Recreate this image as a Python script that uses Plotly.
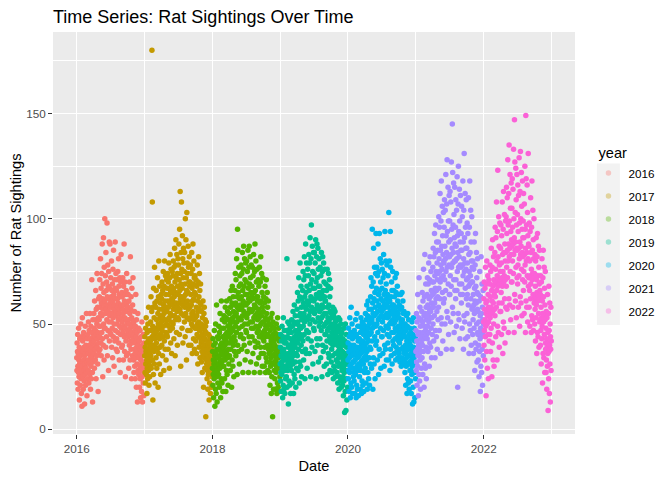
import plotly.graph_objects as go
import pandas as pd

# Daily rat sighting counts, one list per year (Jan 1 .. Dec 31),
# one line per month.
counts_2016 = [
    34, 28, 41, 22, 37, 45, 30, 19, 36, 27, 48, 33, 25, 39, 14, 31, 43, 26, 35, 21, 38, 29, 50, 24, 32, 17, 44, 36, 11, 27, 53,
    30, 42, 25, 37, 19, 33, 46, 28, 39, 23, 35, 12, 44, 31, 26, 49, 36, 21, 40, 29, 33, 55, 27, 38, 16, 43, 32, 24, 37,
    36, 45, 28, 51, 33, 22, 40, 47, 31, 38, 26, 55, 35, 43, 19, 37, 49, 30, 42, 24, 39, 71, 34, 46, 27, 13, 41, 52, 32, 36, 44,
    42, 55, 36, 48, 29, 61, 44, 38, 52, 33, 47, 66, 40, 24, 57, 45, 35, 50, 74, 39, 43, 58, 31, 46, 18, 53, 41, 62, 37, 49,
    52, 63, 44, 71, 38, 58, 49, 81, 55, 41, 67, 35, 60, 74, 46, 54, 88, 43, 62, 25, 57, 69, 40, 91, 50, 65, 33, 77, 48, 59, 100,
    61, 48, 73, 55, 39, 84, 57, 66, 44, 70, 52, 98, 63, 35, 59, 78, 47, 68, 56, 28, 75, 51, 62, 89, 42, 67, 54, 88, 46, 60,
    58, 72, 45, 63, 51, 80, 39, 66, 55, 48, 69, 34, 61, 76, 53, 44, 85, 57, 64, 30, 50, 71, 59, 42, 67, 89, 47, 62, 56, 74, 38,
    54, 66, 43, 71, 50, 37, 62, 58, 75, 46, 60, 52, 81, 41, 68, 55, 33, 64, 49, 72, 57, 27, 63, 45, 70, 53, 83, 48, 59, 39, 65,
    51, 63, 40, 57, 72, 46, 55, 33, 68, 49, 59, 88, 44, 61, 37, 53, 70, 48, 25, 64, 52, 42, 66, 56, 35, 74, 50, 60, 45, 58,
    47, 58, 36, 64, 44, 52, 29, 61, 50, 40, 70, 45, 55, 33, 48, 82, 42, 57, 38, 63, 46, 24, 53, 67, 41, 49, 35, 59, 44, 72, 51,
    42, 33, 51, 27, 45, 38, 56, 30, 47, 36, 24, 49, 41, 64, 34, 44, 20, 52, 39, 31, 46, 37, 13, 43, 55, 28, 40, 35, 48, 26,
    34, 27, 42, 20, 36, 30, 47, 24, 38, 15, 33, 44, 28, 39, 18, 31, 51, 25, 35, 13, 40, 29, 37, 22, 45, 32, 16, 41, 26, 36, 30,
]
counts_2017 = [
    35, 44, 27, 39, 22, 48, 31, 37, 53, 26, 41, 33, 17, 46, 29, 38, 24, 50, 34, 42, 28, 58, 36, 21, 43, 32, 47, 25, 40, 30, 37,
    42, 51, 35, 63, 29, 47, 38, 56, 180, 44, 108, 33, 49, 14, 58, 40, 26, 67, 45, 37, 53, 31, 77, 43, 60, 22, 48, 39,
    46, 58, 34, 66, 41, 52, 29, 61, 47, 38, 72, 44, 55, 20, 50, 63, 36, 80, 48, 57, 31, 43, 68, 53, 39, 60, 45, 26, 54, 49, 64,
    51, 62, 40, 70, 47, 57, 35, 66, 53, 44, 75, 49, 59, 28, 55, 68, 42, 80, 52, 61, 38, 56, 73, 46, 64, 33, 58, 50, 71, 45,
    56, 67, 44, 74, 52, 61, 38, 70, 58, 49, 79, 53, 64, 29, 60, 72, 47, 83, 55, 66, 41, 59, 76, 51, 68, 36, 62, 54, 75, 48, 65,
    61, 73, 50, 80, 57, 67, 43, 77, 63, 54, 86, 59, 70, 35, 65, 78, 52, 90, 60, 72, 46, 64, 83, 56, 74, 40, 68, 58, 81, 53,
    64, 78, 52, 88, 60, 71, 45, 95, 66, 57, 113, 62, 74, 30, 69, 84, 55, 108, 63, 76, 48, 67, 92, 59, 81, 41, 72, 61, 86, 54, 79,
    63, 75, 51, 84, 58, 69, 44, 100, 64, 55, 90, 60, 72, 33, 66, 103, 53, 79, 61, 74, 47, 65, 87, 57, 77, 40, 70, 59, 82, 52, 68,
    58, 70, 47, 78, 53, 64, 40, 74, 59, 50, 84, 55, 67, 36, 61, 76, 49, 88, 56, 69, 43, 62, 80, 52, 72, 38, 65, 54, 73, 48,
    53, 64, 42, 71, 48, 58, 36, 68, 54, 45, 78, 50, 61, 31, 56, 70, 44, 82, 51, 63, 39, 57, 74, 47, 66, 34, 60, 49, 69, 43, 59,
    41, 50, 32, 56, 37, 45, 27, 53, 42, 35, 61, 39, 48, 20, 44, 55, 34, 58, 40, 47, 29, 43, 52, 36, 49, 6, 46, 38, 51, 33,
    31, 38, 24, 42, 28, 35, 19, 40, 33, 26, 45, 30, 37, 14, 34, 41, 22, 44, 29, 36, 17, 32, 39, 27, 43, 20, 35, 30, 38, 25, 33,
]
counts_2018 = [
    29, 37, 21, 43, 26, 33, 15, 40, 31, 24, 47, 28, 35, 11, 32, 41, 19, 50, 27, 36, 17, 30, 59, 25, 38, 13, 34, 28, 44, 22, 31,
    34, 43, 26, 49, 31, 38, 20, 46, 35, 29, 55, 33, 40, 15, 37, 48, 24, 61, 32, 41, 22, 36, 52, 30, 44, 18, 39, 33,
    39, 48, 30, 54, 35, 43, 24, 51, 40, 33, 58, 37, 45, 18, 42, 53, 28, 61, 36, 46, 26, 41, 56, 34, 49, 21, 44, 38, 52, 31, 47,
    45, 55, 35, 62, 41, 50, 28, 58, 46, 38, 66, 43, 52, 20, 48, 60, 33, 68, 42, 53, 30, 47, 63, 40, 56, 25, 51, 44, 59, 37,
    54, 66, 42, 74, 49, 60, 35, 71, 55, 46, 81, 51, 63, 26, 58, 95, 40, 85, 53, 65, 37, 57, 77, 48, 68, 31, 62, 52, 73, 44, 59,
    57, 69, 45, 78, 52, 63, 38, 74, 58, 49, 84, 54, 66, 27, 61, 76, 43, 87, 56, 68, 40, 60, 81, 50, 71, 33, 64, 55, 79, 47,
    59, 70, 46, 80, 53, 64, 37, 75, 60, 50, 85, 55, 67, 27, 62, 77, 44, 87, 57, 69, 41, 61, 82, 51, 72, 32, 65, 56, 78, 48, 63,
    56, 68, 44, 77, 51, 62, 36, 73, 57, 48, 83, 53, 65, 27, 59, 75, 42, 88, 54, 66, 39, 58, 80, 49, 70, 31, 63, 55, 76, 46, 61,
    52, 63, 41, 71, 47, 57, 34, 68, 53, 44, 77, 49, 60, 27, 55, 70, 39, 82, 50, 61, 36, 54, 74, 45, 65, 30, 58, 51, 72, 43,
    46, 56, 36, 63, 42, 51, 30, 60, 47, 39, 68, 44, 53, 27, 49, 62, 34, 71, 45, 55, 32, 48, 65, 40, 58, 28, 52, 45, 61, 38, 50,
    36, 44, 27, 50, 32, 40, 21, 47, 37, 30, 53, 34, 42, 17, 39, 49, 25, 55, 35, 43, 6, 38, 51, 31, 45, 19, 41, 35, 48, 28,
    32, 40, 24, 46, 28, 36, 19, 43, 33, 27, 50, 30, 38, 17, 35, 45, 22, 53, 31, 39, 20, 34, 48, 29, 42, 18, 37, 31, 44, 25, 35,
]
counts_2019 = [
    31, 39, 23, 45, 27, 35, 18, 42, 32, 26, 49, 29, 37, 15, 34, 44, 21, 53, 30, 38, 19, 33, 47, 28, 41, 17, 36, 30, 43, 24, 34,
    33, 41, 25, 47, 29, 81, 20, 44, 34, 28, 51, 31, 39, 12, 36, 46, 23, 50, 32, 40, 21, 35, 48, 30, 43, 17, 38, 33,
    37, 46, 28, 52, 33, 41, 22, 49, 38, 31, 56, 35, 43, 17, 40, 51, 26, 59, 36, 44, 24, 39, 54, 32, 47, 20, 42, 36, 50, 29, 45,
    46, 57, 35, 65, 41, 51, 28, 61, 47, 38, 72, 43, 54, 22, 49, 63, 32, 79, 45, 55, 30, 48, 68, 40, 58, 25, 52, 44, 62, 37,
    54, 66, 42, 75, 49, 60, 33, 71, 55, 45, 82, 51, 63, 24, 58, 73, 38, 88, 53, 65, 36, 57, 79, 47, 68, 29, 61, 52, 76, 43, 59,
    60, 73, 46, 83, 54, 66, 36, 79, 61, 50, 91, 56, 69, 25, 63, 81, 42, 97, 58, 71, 39, 62, 87, 52, 75, 31, 67, 57, 84, 48,
    61, 74, 47, 84, 55, 67, 37, 79, 62, 51, 90, 57, 70, 24, 64, 82, 43, 88, 59, 72, 40, 63, 86, 53, 76, 32, 68, 58, 81, 49, 65,
    56, 68, 43, 77, 51, 62, 34, 73, 57, 47, 84, 53, 64, 25, 59, 75, 40, 82, 54, 66, 37, 58, 79, 49, 70, 30, 63, 55, 76, 45, 61,
    50, 61, 39, 69, 45, 55, 31, 66, 51, 42, 76, 47, 58, 26, 53, 68, 36, 74, 48, 59, 34, 52, 71, 44, 63, 28, 56, 49, 67, 41,
    42, 50, 32, 55, 38, 46, 27, 53, 43, 35, 58, 40, 48, 24, 45, 54, 30, 57, 41, 49, 28, 44, 56, 36, 51, 25, 47, 42, 52, 33, 46,
    36, 44, 27, 49, 32, 40, 22, 47, 37, 30, 53, 34, 42, 19, 39, 48, 25, 52, 35, 43, 23, 38, 50, 31, 45, 20, 41, 35, 46, 28,
    29, 37, 21, 43, 25, 33, 16, 40, 30, 23, 48, 27, 35, 8, 32, 42, 18, 50, 28, 36, 9, 31, 45, 24, 39, 14, 34, 28, 41, 20, 31,
]
counts_2020 = [
    33, 41, 24, 48, 28, 37, 18, 44, 34, 27, 53, 30, 39, 15, 36, 46, 22, 58, 31, 40, 20, 35, 50, 29, 43, 17, 38, 32, 45, 25, 36,
    32, 40, 23, 47, 27, 36, 17, 44, 33, 26, 52, 29, 38, 15, 35, 45, 21, 55, 30, 39, 19, 34, 49, 28, 42, 16, 37, 31, 43,
    35, 43, 25, 49, 30, 39, 19, 46, 36, 28, 53, 32, 41, 17, 38, 48, 23, 51, 33, 42, 21, 37, 50, 31, 45, 18, 40, 34, 47, 27, 38,
    40, 49, 29, 55, 35, 44, 22, 52, 41, 33, 59, 37, 46, 19, 43, 54, 27, 61, 38, 48, 24, 42, 57, 34, 50, 21, 45, 39, 53, 31,
    51, 63, 38, 72, 46, 57, 29, 68, 52, 42, 95, 48, 60, 19, 55, 70, 34, 86, 50, 62, 31, 54, 77, 44, 65, 24, 58, 49, 74, 40, 93,
    55, 67, 42, 77, 50, 61, 33, 73, 56, 46, 88, 52, 64, 26, 59, 75, 38, 93, 53, 66, 35, 58, 81, 48, 70, 29, 62, 54, 79, 44,
    56, 67, 44, 76, 51, 61, 36, 72, 57, 47, 83, 53, 64, 30, 59, 74, 40, 94, 54, 66, 38, 58, 80, 49, 69, 33, 62, 55, 78, 45, 60,
    53, 64, 41, 73, 48, 58, 33, 103, 54, 44, 80, 50, 61, 28, 56, 94, 38, 77, 51, 63, 35, 55, 70, 46, 66, 31, 59, 52, 75, 42, 57,
    50, 59, 40, 66, 46, 54, 36, 63, 51, 43, 72, 48, 56, 33, 52, 65, 39, 74, 47, 58, 37, 53, 68, 44, 61, 34, 55, 49, 64, 42,
    45, 53, 36, 59, 41, 49, 32, 57, 46, 38, 64, 43, 51, 30, 48, 58, 34, 65, 44, 52, 33, 47, 61, 39, 55, 31, 50, 45, 56, 37, 49,
    36, 44, 27, 50, 32, 40, 21, 47, 37, 30, 54, 34, 42, 17, 39, 49, 24, 55, 35, 43, 22, 38, 52, 31, 45, 19, 41, 35, 48, 28,
    32, 40, 23, 46, 28, 36, 17, 43, 33, 26, 51, 30, 38, 12, 35, 45, 20, 53, 31, 39, 13, 34, 48, 27, 42, 15, 37, 31, 44, 24, 36,
]
counts_2021 = [
    37, 47, 28, 55, 32, 42, 21, 51, 38, 30, 64, 35, 45, 16, 40, 53, 26, 72, 36, 46, 23, 39, 58, 33, 49, 19, 43, 37, 52, 29, 41,
    45, 56, 34, 65, 40, 51, 26, 61, 46, 37, 76, 43, 54, 20, 49, 63, 31, 83, 44, 55, 29, 47, 69, 39, 58, 24, 52, 45,
    54, 64, 43, 72, 49, 59, 37, 69, 55, 46, 79, 51, 62, 30, 57, 71, 41, 82, 53, 63, 39, 56, 75, 48, 66, 34, 60, 53, 70, 45, 58,
    64, 77, 50, 86, 58, 70, 42, 82, 65, 54, 93, 60, 73, 34, 67, 84, 47, 97, 62, 75, 44, 66, 89, 56, 79, 38, 71, 63, 85, 52,
    74, 89, 58, 101, 67, 81, 47, 96, 75, 62, 112, 70, 85, 36, 78, 99, 53, 118, 72, 87, 50, 76, 106, 65, 92, 42, 83, 73, 103, 60, 80,
    79, 96, 62, 109, 71, 87, 50, 104, 81, 66, 121, 75, 92, 38, 84, 107, 56, 128, 77, 94, 53, 82, 115, 69, 99, 45, 89, 78, 111, 64,
    82, 99, 64, 113, 73, 90, 51, 108, 83, 68, 127, 77, 95, 38, 86, 145, 58, 122, 79, 97, 55, 84, 117, 71, 102, 46, 91, 80, 115, 66, 88,
    80, 96, 62, 109, 71, 87, 49, 104, 81, 66, 120, 75, 92, 20, 84, 107, 55, 125, 77, 94, 52, 82, 114, 69, 99, 43, 89, 78, 111, 64, 85,
    77, 93, 60, 106, 69, 85, 48, 101, 78, 64, 118, 73, 89, 38, 81, 104, 54, 131, 75, 91, 51, 79, 112, 67, 96, 43, 86, 76, 109, 62,
    71, 86, 55, 98, 64, 79, 44, 93, 72, 59, 110, 68, 83, 36, 75, 96, 50, 118, 69, 84, 47, 73, 104, 62, 89, 40, 80, 70, 101, 57, 77,
    58, 70, 45, 80, 52, 64, 36, 76, 59, 48, 89, 55, 67, 28, 61, 78, 41, 93, 56, 68, 38, 60, 84, 50, 72, 32, 65, 57, 81, 46,
    45, 56, 33, 64, 40, 51, 25, 61, 46, 37, 75, 43, 54, 18, 48, 63, 30, 82, 44, 55, 27, 47, 69, 38, 58, 21, 52, 45, 66, 35, 50,
]
counts_2022 = [
    51, 62, 40, 70, 47, 57, 33, 67, 52, 44, 77, 49, 60, 16, 55, 69, 37, 80, 50, 61, 29, 54, 73, 45, 64, 24, 58, 51, 71, 42, 56,
    57, 69, 45, 78, 53, 63, 37, 75, 58, 48, 86, 55, 66, 25, 61, 77, 41, 90, 56, 68, 33, 60, 82, 50, 71, 30, 64, 57,
    69, 84, 54, 96, 63, 76, 44, 91, 70, 58, 108, 66, 80, 33, 73, 94, 49, 123, 68, 82, 46, 71, 101, 60, 87, 39, 78, 69, 98, 56, 75,
    71, 86, 56, 97, 65, 79, 45, 92, 72, 60, 108, 68, 83, 36, 75, 95, 51, 113, 70, 84, 48, 73, 102, 62, 88, 41, 80, 71, 99, 58,
    84, 101, 68, 115, 77, 93, 57, 110, 85, 72, 128, 80, 97, 46, 88, 112, 62, 135, 82, 99, 59, 86, 121, 75, 105, 52, 94, 83, 117, 70, 90,
    87, 105, 70, 119, 80, 96, 58, 114, 88, 74, 133, 83, 100, 46, 91, 147, 64, 127, 85, 103, 61, 89, 124, 77, 109, 53, 97, 86, 121, 72,
    85, 102, 69, 116, 78, 94, 58, 111, 86, 73, 129, 81, 98, 49, 89, 113, 63, 132, 83, 100, 60, 87, 122, 76, 106, 54, 95, 84, 118, 71, 91,
    82, 99, 66, 112, 75, 91, 55, 107, 83, 70, 125, 78, 95, 46, 86, 149, 61, 119, 80, 97, 58, 84, 116, 73, 103, 51, 92, 81, 131, 68, 88,
    72, 87, 58, 98, 66, 80, 49, 94, 73, 62, 110, 69, 84, 46, 76, 96, 54, 118, 71, 85, 52, 74, 104, 64, 90, 47, 81, 72, 100, 60,
    62, 74, 50, 83, 57, 68, 42, 80, 63, 53, 91, 59, 71, 36, 65, 82, 46, 93, 61, 73, 44, 64, 87, 55, 77, 39, 69, 62, 85, 51, 66,
    52, 64, 40, 73, 47, 58, 31, 70, 53, 43, 81, 49, 61, 22, 55, 72, 36, 85, 51, 63, 34, 54, 77, 45, 67, 27, 59, 52, 75, 41,
    38, 48, 27, 56, 33, 43, 19, 53, 39, 30, 64, 36, 46, 9, 41, 55, 24, 68, 37, 47, 17, 40, 60, 31, 50, 13, 44, 38, 58, 28, 42,
]

years = [2016, 2017, 2018, 2019, 2020, 2021, 2022]
year_counts = [counts_2016, counts_2017, counts_2018, counts_2019,
               counts_2020, counts_2021, counts_2022]

x_ticks = ["2016-01-01", "2018-01-01", "2020-01-01", "2022-01-01"]
x_tick_labels = ["2016", "2018", "2020", "2022"]
x_minor = ["2017-01-01", "2019-01-01", "2021-01-01", "2023-01-01"]
y_ticks = [0, 50, 100, 150]
y_minor = [25, 75, 125, 175]

# ggplot default hue palette for 7 groups
colors = ["#F8766D", "#C49A00", "#53B400", "#00C094", "#00B6EB", "#A58AFF", "#FB61D7"]

font = "Liberation Sans, Arial, sans-serif"

fig = go.Figure()

for yr, vals, col in zip(years, year_counts, colors):
    dates = pd.date_range(f"{yr}-01-01", periods=len(vals), freq="D")
    fig.add_trace(go.Scatter(
        x=dates, y=vals, mode="markers",
        marker=dict(color=col, size=5.5, line=dict(width=0)),
        name=str(yr), legendgroup=str(yr), showlegend=False,
    ))

# legend entries (faded keys, like the reference)
for yr, col in zip(years, colors):
    fig.add_trace(go.Scatter(
        x=[None], y=[None], mode="markers",
        marker=dict(color=col, size=5.5, opacity=0.35, line=dict(width=0)),
        name=str(yr), legendgroup=str(yr), showlegend=True,
    ))

# grey background behind the legend keys
fig.add_shape(type="rect", xref="paper", yref="paper",
              x0=1.042, x1=1.086, y0=0.271, y1=0.673,
              fillcolor="#F2F2F2", line=dict(width=0), layer="below")

# the page puts the figure 8px in from the top-left corner, so the figure is
# sized to fill the rest of the 672x480 window
fig.update_layout(
    width=664, height=472,
    margin=dict(l=45, r=95, t=24, b=46),
    paper_bgcolor="white",
    plot_bgcolor="#EBEBEB",
    font=dict(family=font, color="#000000"),
    title=dict(text="Time Series: Rat Sightings Over Time",
               x=0, xref="paper", xanchor="left",
               y=1 - 8.4 / 472, yref="container", yanchor="middle",
               font=dict(size=18, color="black")),
    showlegend=True,
    legend=dict(
        x=1.0258, xanchor="left", y=0.7326, yanchor="top",
        title=dict(text="&nbsp;&nbsp;year", font=dict(size=14.6)),
        font=dict(size=11.7, color="black"),
        bgcolor="rgba(0,0,0,0)",
        tracegroupgap=4,
        itemclick=False,
    ),
)

fig.update_xaxes(
    type="date",
    range=["2015-08-26", "2023-05-08"],
    tickmode="array", tickvals=x_ticks, ticktext=x_tick_labels,
    ticks="outside", ticklen=4, tickwidth=1.1, tickcolor="#333333",
    tickfont=dict(size=11.7, color="#4D4D4D"),
    showgrid=True, gridcolor="white", gridwidth=1.2,
    minor=dict(tickmode="array", tickvals=x_minor, showgrid=True,
               gridcolor="white", gridwidth=0.6, ticks=""),
    zeroline=False, showline=False,
    title=dict(text="Date", font=dict(size=14.6, color="black"), standoff=6),
    automargin=False,
)
fig.update_yaxes(
    range=[-2.2, 188.7],
    tickmode="array", tickvals=y_ticks,
    ticks="outside", ticklen=4, tickwidth=1.1, tickcolor="#333333",
    tickfont=dict(size=11.7, color="#4D4D4D"),
    showgrid=True, gridcolor="white", gridwidth=1.2,
    minor=dict(tickmode="array", tickvals=y_minor, showgrid=True,
               gridcolor="white", gridwidth=0.6, ticks=""),
    zeroline=False, showline=False,
    title=dict(text="Number of Rat Sightings", font=dict(size=14.6, color="black"), standoff=3),
    automargin=False,
)

fig.write_html("out.html")
